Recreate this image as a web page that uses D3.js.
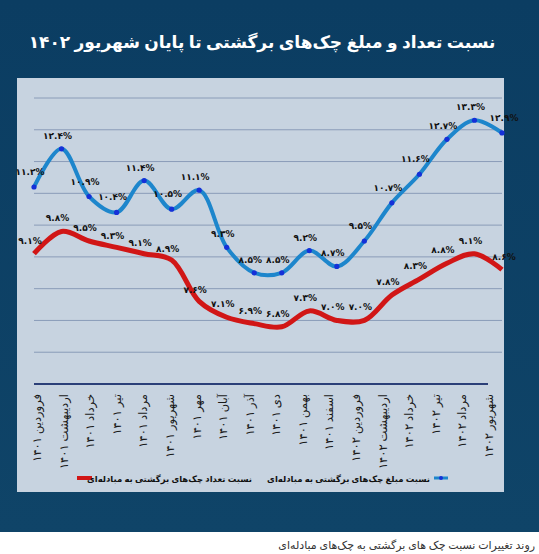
<!DOCTYPE html><html><head><meta charset="utf-8">
<script src="https://cdn.jsdelivr.net/npm/d3@7"></script>
<style>body{margin:0;background:#fff}svg{display:block}</style></head><body>
<svg id="c" width="539" height="554"></svg>
<script>
const months=["فروردین ۱۴۰۱","اردیبهشت ۱۴۰۱","خرداد ۱۴۰۱","تیر ۱۴۰۱","مرداد ۱۴۰۱","شهریور ۱۴۰۱","مهر ۱۴۰۱","آبان ۱۴۰۱","آذر ۱۴۰۱","دی ۱۴۰۱","بهمن ۱۴۰۱","اسفند ۱۴۰۱","فروردین ۱۴۰۲","اردیبهشت ۱۴۰۲","خرداد ۱۴۰۲","تیر ۱۴۰۲","مرداد ۱۴۰۲","شهریور ۱۴۰۲"];
const amountRatio=[11.2,12.4,10.9,10.4,11.4,10.5,11.1,9.3,8.5,8.5,9.2,8.7,9.5,10.7,11.6,12.7,13.3,12.9];
const countRatio=[9.1,9.8,9.5,9.3,9.1,8.9,7.6,7.1,6.9,6.8,7.3,7.0,7.0,7.8,8.3,8.8,9.1,8.6];
const gridTicks=[6,7,8,9,10,11,12,13,14];
const title="نسبت تعداد و مبلغ چک‌های برگشتی تا پایان شهریور ۱۴۰۲";
const legendNames=["نسبت مبلغ چک‌های برگشتی به مبادله‌ای","نسبت تعداد چک‌های برگشتی به مبادله‌ای"];
const caption="روند تغییرات نسبت چک های برگشتی به چک‌های مبادله‌ای";

const fa=s=>String(s).replace(/\d/g,d=>"۰۱۲۳۴۵۶۷۸۹"[d]);
const svg=d3.select("#c");
const defs=svg.append("defs");
const g1=defs.append("linearGradient").attr("id","bg").attr("x1",0).attr("y1",0).attr("x2",0).attr("y2",1);
g1.append("stop").attr("offset","0").attr("stop-color","#0b3d62");
g1.append("stop").attr("offset","1").attr("stop-color","#0f4468");
svg.append("rect").attr("width",539).attr("height",532).attr("fill","url(#bg)");
svg.append("rect").attr("x",17).attr("y",78).attr("width",487).attr("height",414).attr("fill","#c7d3e0");
svg.append("text").attr("x",262).attr("y",48).attr("text-anchor","middle").attr("fill","#fff")
 .attr("font-family","Noto Sans, DejaVu Sans").attr("font-weight","bold").attr("font-size",17).text(title);

const x=d3.scalePoint().domain(months).range([34,502]);
const y=d3.scaleLinear().domain([5,14]).range([384,98]);
svg.append("g").selectAll("line").data(gridTicks).join("line")
 .attr("x1",34).attr("x2",502).attr("y1",d=>y(d)).attr("y2",d=>y(d)).attr("stroke","#8a9cb8").attr("stroke-width",1);
svg.append("line").attr("x1",34).attr("x2",488).attr("y1",y(5)).attr("y2",y(5)).attr("stroke","#2b3f78").attr("stroke-width",2);

const xl=d3.scalePoint().domain(months).range([36,488]);
svg.append("g").selectAll("text").data(months).join("text")
 .attr("transform",d=>`translate(${xl(d)+5},394) rotate(-90)`).attr("text-anchor","end")
 .attr("font-family","Noto Sans, DejaVu Sans").attr("font-size",11.5).attr("fill","#1a1a1a").text(d=>d);

const line=d3.line().x((d,i)=>x(months[i])).y(d=>y(d)).curve(d3.curveCatmullRom.alpha(0.5));
svg.append("path").datum(countRatio).attr("d",line).attr("fill","none").attr("stroke","#d11616").attr("stroke-width",5);
svg.append("path").datum(amountRatio).attr("d",line).attr("fill","none").attr("stroke","#1d86cc").attr("stroke-width",4);
svg.append("g").selectAll("circle").data(amountRatio).join("circle")
 .attr("cx",(d,i)=>x(months[i])).attr("cy",d=>y(d)).attr("r",2.6).attr("fill","#1530d8");

const lab=(data,dy)=>svg.append("g").selectAll("text").data(data).join("text")
 .attr("x",(d,i)=>x(months[i])+(i==17?2:-4)).attr("y",(d,i)=>y(d)+dy[i])
 .attr("text-anchor","middle").attr("direction","ltr").attr("font-family","DejaVu Sans").attr("font-weight","bold")
 .attr("font-size",9).attr("fill","#111").text(d=>fa(d.toFixed(1))+"%");
lab(amountRatio,[-12,-10,-12,-12,-10,-12,-10,-10,-10,-10,-10,-10,-12,-12,-12,-10,-10,-12]);
lab(countRatio,[-10,-10,-10,-8,-8,-8,-8,-10,-10,-10,-10,-10,-10,-10,-10,-10,-10,-10]);

const ly=478,ff="Noto Sans, DejaVu Sans";
svg.append("line").attr("x1",434).attr("x2",448).attr("y1",ly).attr("y2",ly).attr("stroke","#1d86cc").attr("stroke-width",3);
svg.append("circle").attr("cx",441).attr("cy",ly).attr("r",2).attr("fill","#1530d8");
svg.append("text").attr("x",430).attr("y",ly+4).attr("text-anchor","end").attr("font-family",ff).attr("font-weight","bold").attr("font-size",8.5).attr("fill","#111").text(legendNames[0]);
svg.append("line").attr("x1",77).attr("x2",92).attr("y1",ly).attr("y2",ly).attr("stroke","#d11616").attr("stroke-width",4);
svg.append("text").attr("x",252).attr("y",ly+4).attr("text-anchor","end").attr("font-family",ff).attr("font-weight","bold").attr("font-size",8.5).attr("fill","#111").text(legendNames[1]);

svg.append("text").attr("x",535).attr("y",549).attr("text-anchor","end").attr("font-family",ff).attr("font-size",11).attr("fill","#333").text(caption);
</script></body></html>
